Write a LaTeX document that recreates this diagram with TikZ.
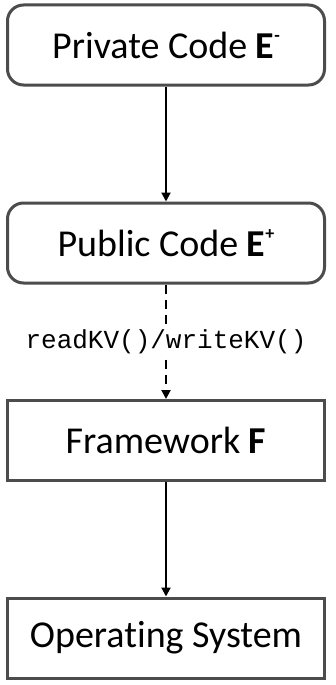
\documentclass[tikz,border=0pt]{standalone}
\usepackage{fontspec}
\setmainfont[Ligatures=NoCommon]{Carlito}
\setmonofont{Liberation Mono}
\usetikzlibrary{positioning,arrows.meta}
\begin{document}
\begin{tikzpicture}[x=1pt, y=1pt,
  codebox/.style={draw=black!70, line width=3pt, fill=white, rounded corners=16pt,
    minimum width=317pt, minimum height=80pt, font=\fontsize{38}{42}\selectfont},
  layerbox/.style={codebox, sharp corners},
  link/.style={-{Triangle[length=9pt,width=9pt]}, line width=2pt}]
\useasboundingbox (0,0) rectangle (335,-685);

\node[codebox] (private) at (166,-45) {Private Code \textbf{E\raisebox{0.9ex}{\fontsize{18}{20}\selectfont -}}};
\node[codebox] (public) at (166,-243) {Public Code \textbf{E\raisebox{0.9ex}{\fontsize{18}{20}\selectfont +}}};
\node[layerbox] (framework) at (166,-440.5) {Framework \textbf{F}};
\node[layerbox] (os) at (166,-638) {Operating System};

\draw[link] (private) -- (public);
\draw[link, dash pattern=on 9pt off 6pt] (public) -- node[fill=white, inner sep=2pt, font=\fontsize{26}{30}\selectfont\ttfamily] (kv) {readKV()/writeKV()} (framework);
\draw[link] (framework) -- (os);

\end{tikzpicture}
\end{document}
